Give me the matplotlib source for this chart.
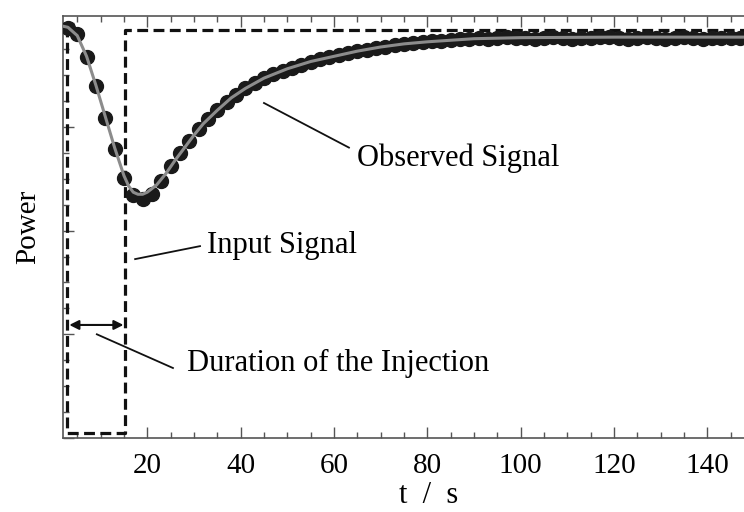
import numpy as np
import matplotlib.pyplot as plt
from matplotlib.ticker import MultipleLocator, NullFormatter

# observed signal (points, every 2 s; the original axis runs past the cropped right edge)
t_obs = np.arange(3, 160, 2)
p_obs = [3.95, 3.90, 3.67, 3.39, 3.09, 2.79, 2.51, 2.34, 2.30, 2.35,
         2.48, 2.62, 2.75, 2.86, 2.98, 3.08, 3.16, 3.24, 3.31, 3.37,
         3.42, 3.47, 3.51, 3.54, 3.57, 3.60, 3.63, 3.65, 3.67, 3.69,
         3.71, 3.73, 3.74, 3.76, 3.77, 3.79, 3.80, 3.81, 3.82, 3.83,
         3.83, 3.84, 3.85, 3.85, 3.86, 3.85, 3.86, 3.87, 3.86, 3.86,
         3.85, 3.86, 3.87, 3.86, 3.85, 3.86, 3.86, 3.87, 3.87, 3.86,
         3.85, 3.86, 3.87, 3.86, 3.85, 3.86, 3.87, 3.86, 3.85, 3.86,
         3.86, 3.86, 3.86, 3.86, 3.86, 3.86, 3.86, 3.86, 3.86]

# fitted curve (grey line)
t_fit = [2, 3, 5, 7, 9, 11, 13, 15, 16, 17, 18, 19, 20, 22, 24, 26, 28, 30,
         32, 35, 38, 41, 45, 50, 55, 60, 65, 70, 75, 80, 90, 100, 120, 160]
p_fit = [3.97, 3.96, 3.88, 3.68, 3.40, 3.10, 2.80, 2.53, 2.43, 2.37, 2.35,
         2.35, 2.37, 2.44, 2.55, 2.68, 2.80, 2.92, 3.03, 3.16, 3.28, 3.37,
         3.47, 3.56, 3.63, 3.68, 3.73, 3.77, 3.80, 3.82, 3.85, 3.86, 3.865,
         3.865]

# input signal (dashed square pulse)
t_in = [2.0, 2.74, 2.74, 15.2, 15.2, 160]
p_in = [3.93, 3.93, 0.05, 0.05, 3.93, 3.93]

plt.rcParams['font.family'] = ['Liberation Serif', 'DejaVu Serif']

fig = plt.figure(figsize=(7.44, 5.12), dpi=100)
# axes is wider than the figure: the reference is cropped on the right
ax = fig.add_axes([0.085, 0.1445, 0.982, 0.8245])

ax.plot(t_in, p_in, color='#111111', lw=2.3, ls=(0, (3.4, 1.7)), zorder=2)
ax.plot(t_obs, p_obs, 'o', color='#1a1a1a', ms=10, zorder=3)
ax.plot(t_fit, p_fit, color='#8c8c8c', lw=2.2, zorder=4)

# arrow for injection duration
ax.annotate('', xy=(3.3, 1.09), xytext=(14.9, 1.09),
            arrowprops=dict(arrowstyle='<|-|>', color='#111111', lw=1.5,
                            mutation_scale=14, shrinkA=0, shrinkB=0))

# label lines and texts
ax.plot([45.0, 63.2], [3.23, 2.80], color='#111111', lw=1.3)
ax.text(65.0, 2.70, 'Observed Signal', fontsize=22, ha='left', va='center')
ax.plot([17.4, 31.3], [1.725, 1.85], color='#111111', lw=1.3)
ax.text(32.8, 1.86, 'Input Signal', fontsize=22, ha='left', va='center')
ax.plot([9.2, 25.5], [1.00, 0.675], color='#111111', lw=1.3)
ax.text(28.5, 0.72, 'Duration of the Injection', fontsize=22, ha='left', va='center')

ax.set_xlim(2.0, 158.5)
ax.set_ylim(0, 4.07)
ax.xaxis.set_major_locator(MultipleLocator(20))
ax.xaxis.set_minor_locator(MultipleLocator(5))
ax.yaxis.set_major_locator(MultipleLocator(1))
ax.yaxis.set_minor_locator(MultipleLocator(0.25))
ax.yaxis.set_major_formatter(NullFormatter())

for s in ['left', 'bottom', 'top']:
    ax.spines[s].set_color('#555555')
    ax.spines[s].set_linewidth(1.2)
ax.spines['right'].set_visible(False)

ax.tick_params(which='both', direction='in', top=True, right=False,
               color='#555555', width=1.0)
ax.tick_params(which='major', length=8, labelsize=21, pad=11)
ax.tick_params(which='minor', length=4)

ax.set_xlabel('t  /  s', fontsize=22, labelpad=1)
ax.set_ylabel('Power', fontsize=21, labelpad=5)

fig.savefig('out.png', dpi=100)
